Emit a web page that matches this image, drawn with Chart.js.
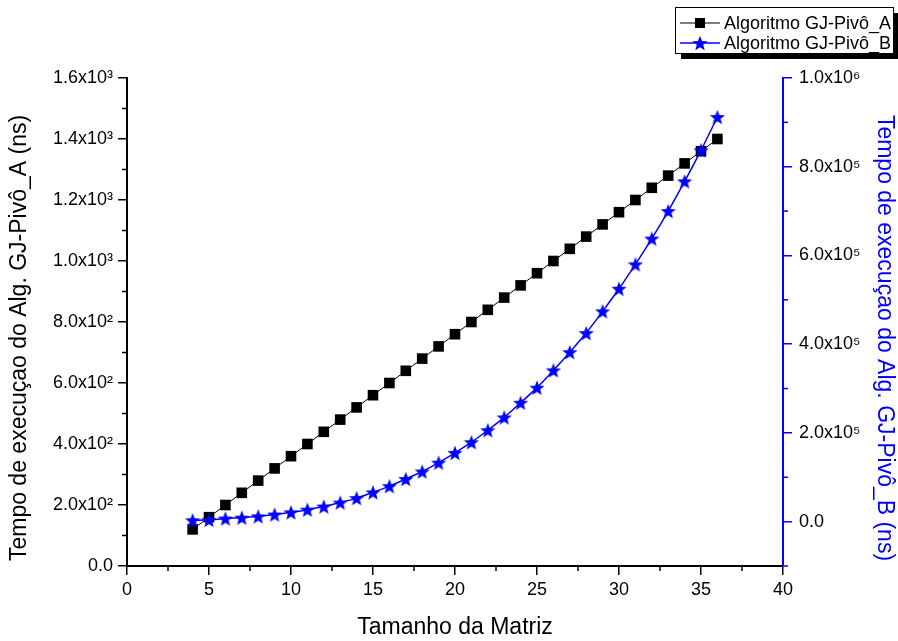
<!DOCTYPE html>
<html>
<head>
<meta charset="utf-8">
<script src="https://cdn.jsdelivr.net/npm/chart.js@4/dist/chart.umd.min.js"></script>
<style>
  body { margin: 0; background: #fff; }
  #wrap { width: 898px; height: 641px; }
</style>
</head>
<body>
<div id="wrap"><canvas id="gjChart" width="898" height="641"></canvas></div>
<script>
// Matrix sizes and execution times
const matrixSizes = [4, 5, 6, 7, 8, 9, 10, 11, 12, 13, 14, 15, 16, 17, 18, 19, 20,
  21, 22, 23, 24, 25, 26, 27, 28, 29, 30, 31, 32, 33, 34, 35, 36];
const timesA = [120, 160, 200, 240, 280, 320, 360, 400, 440, 480, 520, 560, 600,
  640, 680, 720, 760, 800, 840, 880, 920, 960, 1000, 1040, 1080, 1120, 1160, 1200,
  1240, 1280, 1320, 1360, 1400];
const timesB = [3000, 4000, 7000, 9000, 12000, 16000, 21000, 27000, 34000, 43000,
  53000, 66000, 80000, 96000, 113000, 133000, 155000, 179000, 206000, 235000,
  268000, 302000, 341000, 382000, 425000, 474000, 525000, 580000, 638000, 700000,
  767000, 837000, 912000];

// major tick values of the two y axes
const ticksA = [0, 200, 400, 600, 800, 1000, 1200, 1400, 1600];
const ticksB = [0, 200000, 400000, 600000, 800000, 1000000];

const labelA = "Algoritmo GJ-Pivô_A";
const labelB = "Algoritmo GJ-Pivô_B";
const xTitle = "Tamanho da Matriz";
const yTitleA = "Tempo de execuçao do Alg. GJ-Pivô_A (ns)";
const yTitleB = "Tempo de execuçao do Alg. GJ-Pivô_B (ns)";

const BLUE = "#0000ff";
const FONT = "'Liberation Sans', Arial, sans-serif";

const supDigits = { "0": "⁰", "1": "¹", "2": "²", "3": "³", "4": "⁴",
  "5": "⁵", "6": "⁶", "7": "⁷", "8": "⁸", "9": "⁹", "-": "⁻" };

function sciLabel(v) {
  if (v === 0) return "0.0";
  const exp = Math.floor(Math.log10(Math.abs(v)) + 1e-9);
  const mant = v / Math.pow(10, exp);
  return mant.toFixed(1) + "x10" + String(exp).split("").map(c => supDigits[c]).join("");
}

// filled five point star used as the marker of series B
function makeStar(size, color) {
  const c = document.createElement("canvas");
  c.width = size;
  c.height = size;
  const g = c.getContext("2d");
  const cx = size / 2, cy = size / 2 + 0.8, R = size / 2, r = R * 0.42;
  g.beginPath();
  for (let i = 0; i < 10; i++) {
    const ang = -Math.PI / 2 + i * Math.PI / 5;
    const rad = i % 2 ? r : R;
    g.lineTo(cx + rad * Math.cos(ang), cy + rad * Math.sin(ang));
  }
  g.closePath();
  g.fillStyle = color;
  g.fill();
  return c;
}
const starImg = makeStar(16, BLUE);

// short minor ticks half way between the major ones
const minorTicks = {
  id: "minorTicks",
  afterDraw(chart) {
    const ctx = chart.ctx;
    const specs = [
      { id: "x", step: 2.5, color: "#000" },
      { id: "yA", step: 100, color: "#000" },
      { id: "yB", step: 100000, color: BLUE },
    ];
    ctx.save();
    ctx.lineWidth = 1.5;
    specs.forEach(s => {
      const sc = chart.scales[s.id];
      const k0 = Math.ceil(sc.min / s.step - 1e-9);
      const k1 = Math.floor(sc.max / s.step + 1e-9);
      ctx.strokeStyle = s.color;
      for (let k = k0; k <= k1; k++) {
        if (k % 2 === 0) continue;
        const p = sc.getPixelForValue(k * s.step);
        ctx.beginPath();
        if (s.id === "x") {
          ctx.moveTo(p, sc.top);
          ctx.lineTo(p, sc.top + 5);
        } else if (s.id === "yA") {
          ctx.moveTo(sc.right, p);
          ctx.lineTo(sc.right - 5, p);
        } else {
          ctx.moveTo(sc.left, p);
          ctx.lineTo(sc.left + 5, p);
        }
        ctx.stroke();
      }
    });
    ctx.restore();
  },
};

// boxed legend with a drop shadow, top right corner
const boxLegend = {
  id: "boxLegend",
  afterDraw(chart) {
    const ctx = chart.ctx;
    const bx = 675, by = 7, bw = 218, bh = 46;
    ctx.save();
    ctx.fillStyle = "#000";
    ctx.fillRect(bx + 6, by + 6, bw, bh);
    ctx.fillStyle = "#fff";
    ctx.fillRect(bx, by, bw, bh);
    ctx.strokeStyle = "#000";
    ctx.lineWidth = 1;
    ctx.strokeRect(bx + 0.5, by + 0.5, bw, bh);
    ctx.font = "18px " + FONT;
    ctx.textBaseline = "middle";
    chart.data.datasets.forEach((ds, i) => {
      const y = by + 16 + i * 20;
      ctx.strokeStyle = ds.borderColor;
      ctx.lineWidth = ds.borderWidth;
      ctx.beginPath();
      ctx.moveTo(bx + 5, y);
      ctx.lineTo(bx + 45, y);
      ctx.stroke();
      if (ds.pointStyle === "rect") {
        ctx.fillStyle = ds.pointBackgroundColor;
        ctx.fillRect(bx + 25 - 5, y - 5, 10, 10);
      } else {
        ctx.drawImage(ds.pointStyle, bx + 25 - 8, y - 8);
      }
      ctx.fillStyle = "#000";
      ctx.fillText(ds.label, bx + 49, y + 1);
    });
    ctx.restore();
  },
};

const ctx = document.getElementById("gjChart").getContext("2d");
const gjChart = new Chart(ctx, {
  type: "line",
  data: {
    datasets: [
      {
        label: labelA,
        data: matrixSizes.map((n, i) => ({ x: n, y: timesA[i] })),
        yAxisID: "yA",
        borderColor: "#000",
        borderWidth: 1,
        pointStyle: "rect",
        pointRadius: 7.5,
        pointBackgroundColor: "#000",
        pointBorderColor: "#000",
        pointBorderWidth: 0,
        tension: 0,
        order: 1,
      },
      {
        label: labelB,
        data: matrixSizes.map((n, i) => ({ x: n, y: timesB[i] })),
        yAxisID: "yB",
        borderColor: BLUE,
        borderWidth: 1.5,
        pointStyle: starImg,
        pointRadius: 8,
        tension: 0.3,
        order: 0,
      },
    ],
  },
  options: {
    responsive: false,
    animation: false,
    layout: { padding: { top: 78, left: 0, right: 0, bottom: 0 } },
    scales: {
      x: {
        type: "linear",
        min: 0,
        max: 40,
        afterFit: s => { s.height = 75; },
        border: { color: "#000", width: 2 },
        grid: { drawOnChartArea: false, color: "#000", tickLength: 9, lineWidth: 1.5 },
        ticks: { stepSize: 5, color: "#000", padding: 4, font: { size: 18, family: FONT } },
        title: {
          display: true,
          text: xTitle,
          color: "#000",
          font: { size: 23, family: FONT },
          padding: { top: 0, bottom: 0 },
        },
      },
      yA: {
        type: "linear",
        position: "left",
        min: 0,
        max: 1600,
        afterFit: s => { s.width = 127; },
        afterBuildTicks: s => { s.ticks = ticksA.map(v => ({ value: v })); },
        border: { color: "#000", width: 2 },
        grid: { drawOnChartArea: false, color: "#000", tickLength: 9, lineWidth: 1.5 },
        ticks: {
          color: "#000",
          padding: 5,
          font: { size: 18, family: FONT },
          callback: v => sciLabel(v),
        },
        title: {
          display: true,
          text: yTitleA + "     ",
          color: "#000",
          font: { size: 23, family: FONT },
          padding: { top: 6, bottom: 0 },
        },
      },
      yB: {
        type: "linear",
        position: "right",
        min: -100000,
        max: 1000000,
        afterFit: s => { s.width = 115; },
        afterBuildTicks: s => { s.ticks = ticksB.map(v => ({ value: v })); },
        border: { color: BLUE, width: 2 },
        grid: { drawOnChartArea: false, color: BLUE, tickLength: 9, lineWidth: 1.5 },
        ticks: {
          color: "#000",
          padding: 7,
          font: { size: 18, family: FONT },
          callback: v => sciLabel(v),
        },
        title: {
          display: true,
          text: "     " + yTitleB,
          color: BLUE,
          font: { size: 23, family: FONT },
          padding: { top: 0, bottom: 0 },
        },
      },
    },
    plugins: {
      legend: { display: false },
      tooltip: { enabled: false },
    },
  },
  plugins: [minorTicks, boxLegend],
});
</script>
</body>
</html>
